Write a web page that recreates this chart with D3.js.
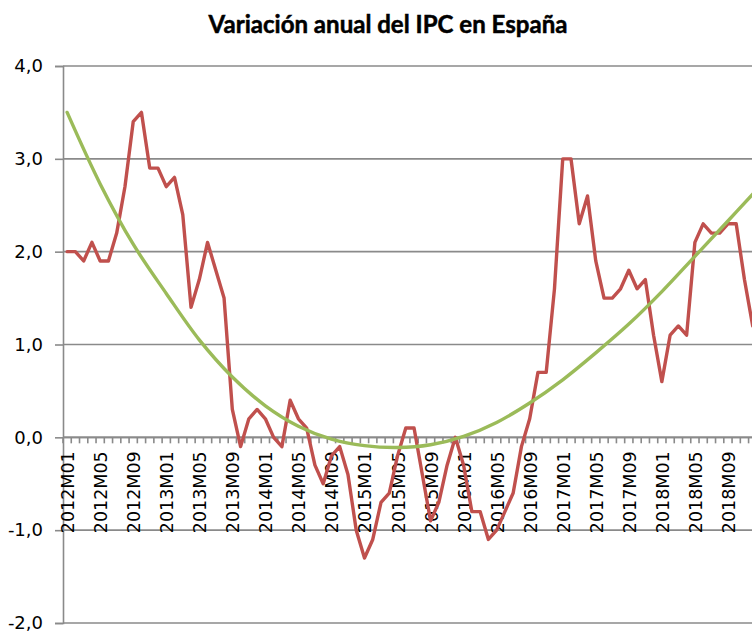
<!DOCTYPE html>
<html>
<head>
<meta charset="utf-8">
<script src="https://cdn.jsdelivr.net/npm/d3@7/dist/d3.min.js"></script>
<style>
  body { margin: 0; background: #fff; }
  svg { display: block; }
</style>
</head>
<body>
<div id="chart"></div>
<script>
// categories: years x months
const years = [2012, 2013, 2014, 2015, 2016, 2017, 2018];
const months = ["M01", "M02", "M03", "M04", "M05", "M06", "M07", "M08", "M09", "M10", "M11", "M12"];

// annual CPI variation, one list per year
const ipc2012 = [2.0, 2.0, 1.9, 2.1, 1.9, 1.9, 2.2, 2.7, 3.4, 3.5, 2.9, 2.9];
const ipc2013 = [2.7, 2.8, 2.4, 1.4, 1.7, 2.1, 1.8, 1.5, 0.3, -0.1, 0.2, 0.3];
const ipc2014 = [0.2, 0.0, -0.1, 0.4, 0.2, 0.1, -0.3, -0.5, -0.2, -0.1, -0.4, -1.0];
const ipc2015 = [-1.3, -1.1, -0.7, -0.6, -0.2, 0.1, 0.1, -0.4, -0.9, -0.7, -0.3, 0.0];
const ipc2016 = [-0.3, -0.8, -0.8, -1.1, -1.0, -0.8, -0.6, -0.1, 0.2, 0.7, 0.7, 1.6];
const ipc2017 = [3.0, 3.0, 2.3, 2.6, 1.9, 1.5, 1.5, 1.6, 1.8, 1.6, 1.7, 1.1];
const ipc2018 = [0.6, 1.1, 1.2, 1.1, 2.1, 2.3, 2.2, 2.2, 2.3, 2.3, 1.7, 1.2];

// trend line
const trendMonths = ["2012M01", "2012M05", "2012M09", "2013M01", "2013M05", "2013M09", "2014M01", "2014M05",
  "2014M09", "2015M01", "2015M05", "2015M09", "2016M01", "2016M05", "2016M09", "2017M01", "2017M05",
  "2017M09", "2018M01", "2018M05", "2018M09", "2018M12"];
const trendValues = [3.50, 2.73, 2.08, 1.55, 1.05, 0.65, 0.34, 0.12, -0.02, -0.09, -0.11, -0.08, 0.01, 0.16,
  0.37, 0.62, 0.91, 1.22, 1.57, 1.95, 2.33, 2.62];

const yTicks = [-2, -1, 0, 1, 2, 3, 4];

const categories = years.flatMap((yr) => months.map((m) => yr + m));
const ipc = [ipc2012, ipc2013, ipc2014, ipc2015, ipc2016, ipc2017, ipc2018].flat();
const series = categories.map((c, i) => ({ cat: c, value: ipc[i] }));
const trend = trendMonths.map((c, i) => ({ cat: c, value: trendValues[i] }));

const width = 752;
const height = 632;
const svg = d3.select('#chart').append('svg').attr('width', width).attr('height', height);

const left = 63;
const step = 8.26;

const x = d3.scaleBand().domain(categories).range([left, left + step * categories.length]).padding(0);
const y = d3.scaleLinear().domain([-2, 4]).range([623, 66]);
const cx = (c) => x(c) + x.bandwidth() / 2;

const grey = '#8a8a8a';
const fmt = (d) => d3.format('.1f')(d).replace('.', ',').replace('\u2212', '-');

// gridlines
svg.append('g')
  .selectAll('line')
  .data(yTicks)
  .enter()
  .append('line')
  .attr('x1', left)
  .attr('x2', x.range()[1])
  .attr('y1', (d) => y(d))
  .attr('y2', (d) => y(d))
  .attr('stroke', grey)
  .attr('stroke-width', 1.6);

// y axis
const yAxis = svg.append('g')
  .attr('transform', `translate(${left}, 0)`)
  .call(d3.axisLeft(y).tickValues(yTicks).tickSize(8).tickPadding(12).tickFormat(fmt));
yAxis.select('.domain').attr('stroke', grey).attr('stroke-width', 1.6);
yAxis.selectAll('.tick line').attr('stroke', grey).attr('stroke-width', 1.6);
yAxis.selectAll('text')
  .attr('font-family', '"DejaVu Sans", sans-serif')
  .attr('font-size', 18)
  .attr('fill', '#000');

// x axis at zero with a tick on every month boundary
const y0 = y(0);
const xAxis = svg.append('g');
xAxis.selectAll('.mtick')
  .data(categories.concat(['end']))
  .enter()
  .append('line')
  .attr('class', 'mtick')
  .attr('x1', (d) => (d === 'end' ? x.range()[1] : x(d)))
  .attr('x2', (d) => (d === 'end' ? x.range()[1] : x(d)))
  .attr('y1', y0)
  .attr('y2', y0 + 6)
  .attr('stroke', grey)
  .attr('stroke-width', 1.6);

xAxis.selectAll('.xlabel')
  .data(categories.filter((d, i) => i % 4 === 0))
  .enter()
  .append('text')
  .attr('class', 'xlabel')
  .attr('transform', (d) => `translate(${cx(d) + 7}, ${y0 + 14}) rotate(-90)`)
  .attr('text-anchor', 'end')
  .attr('font-family', '"DejaVu Sans", sans-serif')
  .attr('font-size', 17.5)
  .attr('fill', '#000')
  .text((d) => d);

// data line
const line = d3.line().x((d) => cx(d.cat)).y((d) => y(d.value));
svg.append('path')
  .datum(series)
  .attr('d', line)
  .attr('fill', 'none')
  .attr('stroke', '#C0504D')
  .attr('stroke-width', 3.4)
  .attr('stroke-linejoin', 'round')
  .attr('stroke-linecap', 'round');

// trend line
const trendLine = d3.line().curve(d3.curveCatmullRom).x((d) => cx(d.cat)).y((d) => y(d.value));
svg.append('path')
  .datum(trend)
  .attr('d', trendLine)
  .attr('fill', 'none')
  .attr('stroke', '#9BBB59')
  .attr('stroke-width', 3.4)
  .attr('stroke-linecap', 'round');

// x axis line under the other marks
xAxis.append('line')
  .attr('x1', left)
  .attr('x2', x.range()[1])
  .attr('y1', y0)
  .attr('y2', y0)
  .attr('stroke', grey)
  .attr('stroke-width', 1.6)
  .lower();

// title, sized to fit the original width
const title = svg.append('text')
  .attr('x', 388)
  .attr('y', 33)
  .attr('text-anchor', 'middle')
  .attr('font-family', 'Lato, "Open Sans", sans-serif')
  .attr('font-weight', 700)
  .attr('font-size', 22)
  .attr('fill', '#000')
  .attr('stroke', '#000')
  .attr('stroke-width', 0.5)
  .text('Variación anual del IPC en España');
const tw = title.node().getComputedTextLength();
title.attr('font-size', 22 * 359 / tw);
</script>
</body>
</html>
